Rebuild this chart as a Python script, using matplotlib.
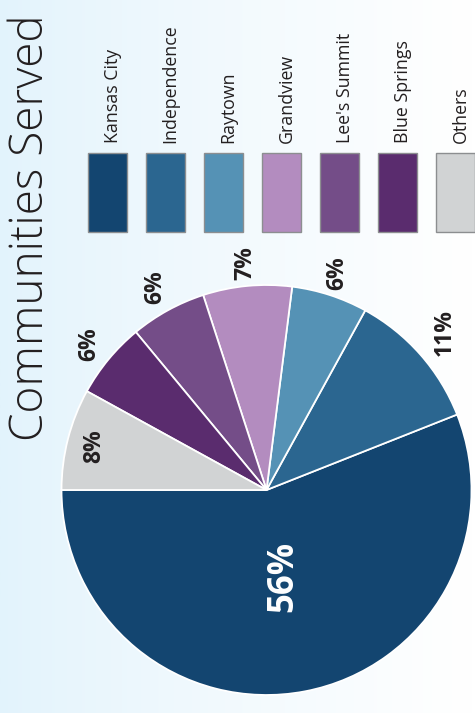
import numpy as np
import matplotlib
matplotlib.use("Agg")
import matplotlib.pyplot as plt
from matplotlib.patches import Rectangle
from matplotlib.colors import LinearSegmentedColormap

plt.rcParams['font.family'] = ['Open Sans', 'DejaVu Sans']

# Share of clients by community (percent)
communities = ["Kansas City", "Independence", "Raytown", "Grandview",
               "Lee's Summit", "Blue Springs", "Others"]
shares = [56, 11, 6, 7, 6, 6, 8]
colors = ["#134570", "#2b6690", "#5592b5", "#b38cbf",
          "#744d88", "#5a2c6e", "#d1d3d4"]
# radial placement of each percentage label (fraction of radius)
label_radius = [0.43, 1.16, 1.11, 1.11, 1.13, 1.12, 0.87]
label_color = ["white", "#231f20", "#231f20", "#231f20", "#231f20", "#231f20", "#231f20"]
label_size = [25, 16.5, 16.5, 16.5, 16.5, 16.5, 16.5]

W, H = 475, 713
fig = plt.figure(figsize=(W / 100, H / 100), dpi=100)
ax = fig.add_axes([0, 0, 1, 1])
ax.set_xlim(0, W)
ax.set_ylim(0, H)
ax.set_aspect('equal')
ax.axis('off')

# soft blue-to-white background wash
grad = np.linspace(0, 1, 256).reshape(1, -1) ** 0.8
cmap = LinearSegmentedColormap.from_list("wash", ["#e2f3fc", "#ffffff"])
ax.imshow(grad, extent=[0, W, 0, H], cmap=cmap, aspect='auto', zorder=0)

# title, rotated to run up the left side
ax.text(31, H - 228, "Communities Served", rotation=90, ha='center', va='center',
        fontsize=33, fontweight='light', color='#231f20', zorder=3)

# legend: swatches with labels above them
x0, step, sw, sh = 88, 58, 39, 79
for i, (name, c) in enumerate(zip(communities, colors)):
    x = x0 + i * step
    ax.add_patch(Rectangle((x, H - 232), sw, sh, facecolor=c,
                           edgecolor='#8c8e90', linewidth=1.0, zorder=3))
    ax.text(x + sw / 2 + 5, H - 143, name, rotation=90, ha='center', va='bottom',
            fontsize=12.8, color='#231f20', zorder=3)

# pie
cx, cy, R = 266.5, H - 490, 205
wedges, _ = ax.pie(shares, colors=colors, startangle=180, counterclock=True,
                   center=(cx, cy), radius=R, frame=True,
                   wedgeprops=dict(edgecolor='white', linewidth=1.3))
ax.set_xlim(0, W)
ax.set_ylim(0, H)
ax.axis('off')

for w, v, rf, tc, fs in zip(wedges, shares, label_radius, label_color, label_size):
    mid = np.deg2rad((w.theta1 + w.theta2) / 2)
    ax.text(cx + rf * R * np.cos(mid), cy + rf * R * np.sin(mid), f"{v}%",
            rotation=90, ha='center', va='center', fontsize=fs,
            fontweight='bold', color=tc, zorder=4)

fig.savefig("out.png", dpi=100)
